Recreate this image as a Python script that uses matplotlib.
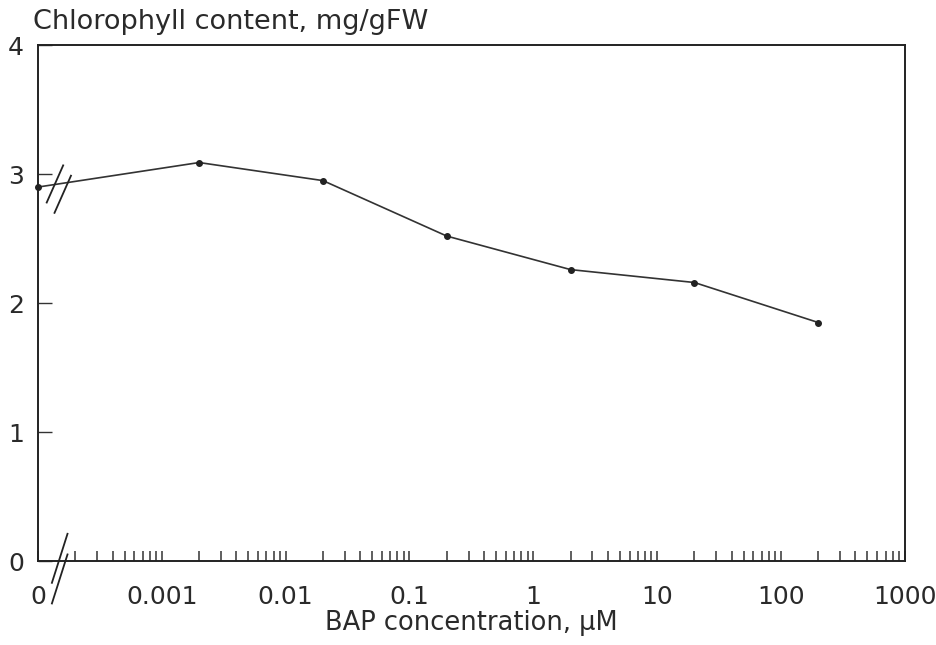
import matplotlib.pyplot as plt
from matplotlib.ticker import FixedLocator, NullFormatter

plt.rcParams['font.family'] = ['DejaVu Sans']

# data (BAP in uM, chlorophyll in mg/gFW)
conc = [0, 0.002, 0.02, 0.2, 2, 20, 200]
chl = [2.90, 3.09, 2.95, 2.52, 2.26, 2.16, 1.85]

x_ticks = [1e-4, 1e-3, 1e-2, 1e-1, 1, 10, 100, 1000]
x_labels = ['0', '0.001', '0.01', '0.1', '1', '10', '100', '1000']
y_ticks = [0, 1, 2, 3, 4]

# the zero concentration sits at the left edge of the log axis (broken axis)
x_zero = 1e-4
xs = [c if c > 0 else x_zero for c in conc]

fig = plt.figure(figsize=(9.37, 6.45), dpi=100)
ax = fig.add_axes([0.0406, 0.130, 0.925, 0.800])

ax.plot(xs, chl, '-', color='#333333', lw=1.2, marker='o', ms=4,
        mfc='#222222', mec='#222222', clip_on=False, zorder=3)

ax.set_xscale('log')
ax.set_xlim(1e-4, 1000)
ax.set_ylim(0, 4)

ax.set_xticks(x_ticks)
ax.set_xticklabels(x_labels)
minor = [m * 10.0 ** e for e in range(-4, 3) for m in range(2, 10)]
ax.xaxis.set_minor_locator(FixedLocator(minor))
ax.xaxis.set_minor_formatter(NullFormatter())
ax.tick_params(axis='x', which='both', direction='in', length=7, width=1.1,
               color='#333333', labelsize=18, pad=17, labelcolor='#2a2a2a')

ax.set_yticks(y_ticks)
ax.tick_params(axis='y', direction='in', length=10, width=1.0,
               color='#333333', labelsize=18, pad=10, labelcolor='#2a2a2a')

for s in ax.spines.values():
    s.set_linewidth(1.4)
    s.set_color('#222222')

ax.set_xlabel('BAP concentration, µM', fontsize=18.5, labelpad=1,
              color='#2a2a2a')
fig.text(0.035, 0.966, 'Chlorophyll content, mg/gFW', fontsize=19.5,
         ha='left', va='center', color='#2a2a2a')

# break marks (double slashes) near the zero
def brk(x0, y0, dx, dy, off):
    for k in (0, 1):
        ax.plot([x0 + k * off[0], x0 + dx + k * off[0]],
                [y0 + k * off[1], y0 + dy + k * off[1]],
                transform=ax.transAxes, color='#222222', lw=1.3,
                clip_on=False, zorder=4)

brk(0.010, 0.695, 0.019, 0.072, (0.009, -0.02))
brk(0.016, -0.042, 0.018, 0.095, (0.000, -0.04))

fig.savefig('out.png', dpi=100)
